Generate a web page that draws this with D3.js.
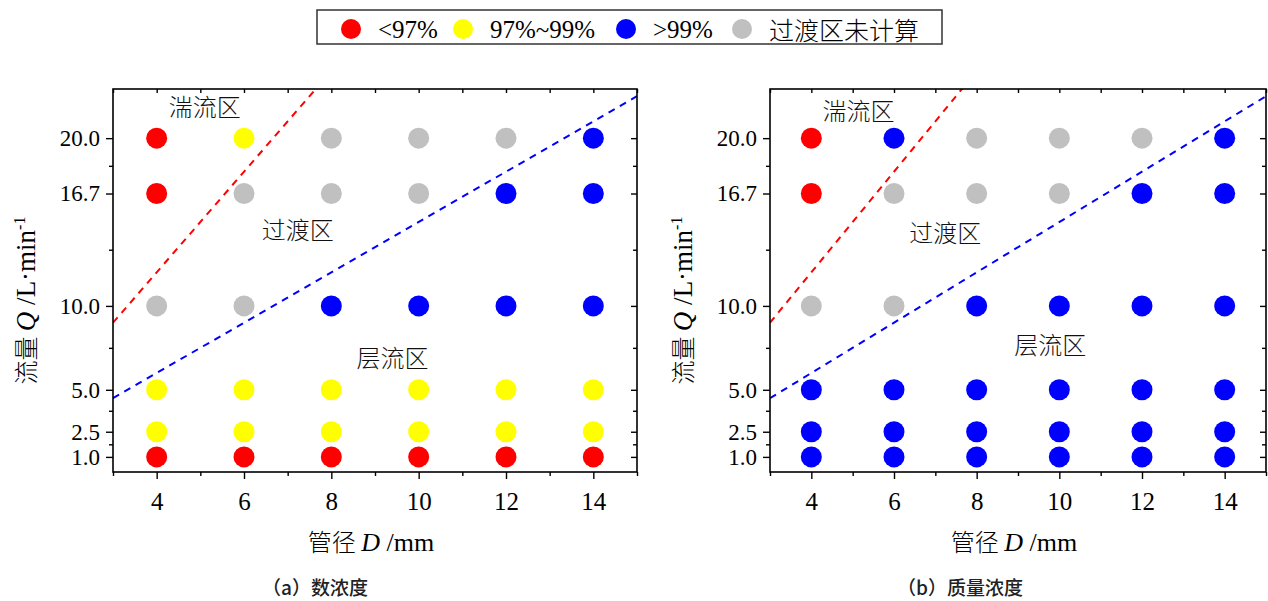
<!DOCTYPE html>
<html>
<head>
<meta charset="utf-8">
<script src="https://cdn.jsdelivr.net/npm/d3@7"></script>
<style>
  html, body { margin: 0; padding: 0; background: #fff; }
  svg { display: block; }
</style>
</head>
<body>
<svg id="chart" width="1268" height="601"></svg>
<script>
// Pipe diameters (mm) and flow rates (L/min) of the test grid
const diameters = [4, 6, 8, 10, 12, 14];
const flows = [20.0, 16.7, 10.0, 5.0, 2.5, 1.0];

// Axis ticks
const xMajorTicks = [4, 6, 8, 10, 12, 14];
const xMinorTicks = [3, 5, 7, 9, 11, 13, 15];
const yMajorTicks = [1.0, 2.5, 5.0, 10.0, 16.7, 20.0];
const yMinorTicks = [1.75, 3.75, 7.5, 13.35, 18.35];

// Efficiency class per grid cell, one row per flow rate (same order as flows)
// low: <97%, mid: 97%~99%, high: >99%, na: transition zone not computed
const numberConcClass = [
  ["low", "mid", "na", "na", "na", "high"],
  ["low", "na", "na", "na", "high", "high"],
  ["na", "na", "high", "high", "high", "high"],
  ["mid", "mid", "mid", "mid", "mid", "mid"],
  ["mid", "mid", "mid", "mid", "mid", "mid"],
  ["low", "low", "low", "low", "low", "low"]
];
const massConcClass = [
  ["low", "high", "na", "na", "na", "high"],
  ["low", "na", "na", "na", "high", "high"],
  ["na", "na", "high", "high", "high", "high"],
  ["high", "high", "high", "high", "high", "high"],
  ["high", "high", "high", "high", "high", "high"],
  ["high", "high", "high", "high", "high", "high"]
];

// Legend entries
const classKeys = ["low", "mid", "high", "na"];
const classLabels = ["<97%", "97%~99%", ">99%", "过渡区未计算"];
const classColors = ["#ff0000", "#ffff00", "#0000ff", "#c0c0c0"];

// Flow regime boundaries Q = k·D
const turbulentSlope = 3.0;
const laminarSlope = 1.5;

// Regime labels [D, Q] per panel
const regimeNames = ["湍流区", "过渡区", "层流区"];
const regimePosA = [[5.1, 21.95], [7.23, 14.64], [9.4, 6.96]];
const regimePosB = [[5.14, 21.7], [7.24, 14.43], [9.78, 7.78]];

const SERIF = '"Liberation Serif", "Times New Roman", serif';
const CJK = '"Noto Sans CJK SC", sans-serif';

const colorOf = d3.scaleOrdinal().domain(classKeys).range(classColors);
const svg = d3.select("#chart");

function drawPanel(opts) {
  const { left, right, top, bottom, classes, regimePos, caption, captionX, idx } = opts;
  const x = d3.scaleLinear().domain([3, 15]).range([left, right]);
  const y = d3.scaleLinear().domain([0.1, 22.93]).range([bottom, top]);
  const g = svg.append("g");

  const clipId = "clip" + idx;
  g.append("clipPath").attr("id", clipId)
    .append("rect").attr("x", left).attr("y", top)
    .attr("width", right - left).attr("height", bottom - top);

  // boundary lines
  const lineGen = d3.line().x(d => x(d[0])).y(d => y(d[1]));
  const domainD = [3, 15];
  [[turbulentSlope, "#ff0000"], [laminarSlope, "#0000ff"]].forEach(([k, c]) => {
    g.append("path")
      .attr("clip-path", `url(#${clipId})`)
      .attr("d", lineGen(domainD.map(dd => [dd, k * dd])))
      .attr("fill", "none").attr("stroke", c)
      .attr("stroke-width", 2).attr("stroke-dasharray", "7,6");
  });

  // grid points
  const pts = [];
  flows.forEach((q, i) => diameters.forEach((dd, j) => pts.push({ D: dd, Q: q, c: classes[i][j] })));
  g.selectAll("circle.pt").data(pts).enter().append("circle")
    .attr("class", "pt")
    .attr("cx", d => x(d.D)).attr("cy", d => y(d.Q)).attr("r", 10.5)
    .attr("fill", d => colorOf(d.c));

  // regime labels
  g.selectAll("text.regime").data(regimeNames).enter().append("text")
    .style("font-family", CJK).style("font-weight", 300)
    .attr("x", (d, i) => x(regimePos[i][0])).attr("y", (d, i) => y(regimePos[i][1]))
    .attr("text-anchor", "middle").attr("dominant-baseline", "central")
    .style("font-size", "24px").attr("fill", "#111").text(d => d);

  // axes
  const fontStyle = size => sel => sel.selectAll("text")
    .style("font-family", SERIF).style("font-size", size).attr("fill", "#000");
  const styleAxis = sel => {
    sel.select(".domain").remove();
    sel.selectAll("line").attr("stroke", "#000").attr("stroke-width", 1.4);
  };

  g.append("g").attr("transform", `translate(0,${bottom})`)
    .call(d3.axisBottom(x).tickValues(xMajorTicks).tickFormat(d3.format("d")).tickSize(7).tickPadding(13))
    .call(styleAxis).call(fontStyle("25px"));
  g.append("g").attr("transform", `translate(0,${bottom})`)
    .call(d3.axisBottom(x).tickValues(xMinorTicks).tickFormat("").tickSize(4))
    .call(styleAxis);

  g.append("g").attr("transform", `translate(${left},0)`)
    .call(d3.axisLeft(y).tickValues(yMajorTicks).tickFormat(d3.format(".1f")).tickSize(7).tickPadding(6))
    .call(styleAxis).call(fontStyle("23px"));
  g.append("g").attr("transform", `translate(${left},0)`)
    .call(d3.axisLeft(y).tickValues(yMinorTicks).tickFormat("").tickSize(4))
    .call(styleAxis);

  // mirrored inward ticks on top and right
  g.append("g").attr("transform", `translate(0,${top})`)
    .call(d3.axisTop(x).tickValues(xMajorTicks.concat(xMinorTicks)).tickFormat("").tickSize(-4))
    .call(styleAxis);
  g.append("g").attr("transform", `translate(${right},0)`)
    .call(d3.axisRight(y).tickValues(yMajorTicks).tickFormat("").tickSize(-6))
    .call(styleAxis);
  g.append("g").attr("transform", `translate(${right},0)`)
    .call(d3.axisRight(y).tickValues(yMinorTicks).tickFormat("").tickSize(-4))
    .call(styleAxis);

  // frame
  g.append("rect").attr("x", left).attr("y", top)
    .attr("width", right - left).attr("height", bottom - top)
    .attr("fill", "none").attr("stroke", "#000").attr("stroke-width", 1.6);

  // axis titles
  const xt = g.append("text").attr("x", (left + right) / 2 - 4).attr("y", bottom + 79)
    .attr("text-anchor", "middle").style("font-size", "26px").attr("fill", "#000");
  xt.append("tspan").style("font-family", CJK).style("font-weight", 300).style("font-size", "24px").text("管径 ");
  xt.append("tspan").style("font-family", SERIF).style("font-style", "italic").text("D");
  xt.append("tspan").style("font-family", SERIF).text(" /mm");

  const yt = g.append("text")
    .attr("transform", `translate(${left - 78},${(top + bottom) / 2 + 20}) rotate(-90)`)
    .attr("text-anchor", "middle").style("font-size", "27px").attr("fill", "#000");
  yt.append("tspan").style("font-family", CJK).style("font-weight", 300).style("font-size", "24px").text("流量 ");
  yt.append("tspan").style("font-family", SERIF).style("font-style", "italic").text("Q");
  yt.append("tspan").style("font-family", SERIF).text(" /L·min");
  yt.append("tspan").style("font-family", SERIF).style("font-size", "16px").attr("dy", -10).text("-1");

  // panel caption
  svg.append("text")
    .attr("x", captionX).attr("y", 595)
    .style("font-family", CJK).style("font-size", "19px").style("font-weight", 500).attr("fill", "#222")
    .text(caption);
}

drawPanel({ idx: 0, left: 113, right: 637, top: 89, bottom: 472,
  classes: numberConcClass, regimePos: regimePosA, caption: "（a）数浓度", captionX: 262 });
drawPanel({ idx: 1, left: 770, right: 1266, top: 89, bottom: 472,
  classes: massConcClass, regimePos: regimePosB, caption: "（b）质量浓度", captionX: 897 });

// legend
const legend = svg.append("g");
legend.append("rect").attr("x", 317).attr("y", 10).attr("width", 625).attr("height", 34)
  .attr("fill", "#fff").attr("stroke", "#333").attr("stroke-width", 1.5);
const legendMarkX = [351, 463, 626, 742];
classKeys.forEach((k, i) => {
  legend.append("circle").attr("cx", legendMarkX[i]).attr("cy", 29).attr("r", 10)
    .attr("fill", colorOf(k));
  legend.append("text")
    .style("font-family", i === 3 ? CJK : SERIF)
    .style("font-weight", i === 3 ? 300 : 400)
    .attr("x", legendMarkX[i] + 27).attr("y", 29)
    .attr("dominant-baseline", "central")
    .style("font-size", "25px").attr("fill", "#000")
    .text(classLabels[i]);
});
</script>
</body>
</html>
